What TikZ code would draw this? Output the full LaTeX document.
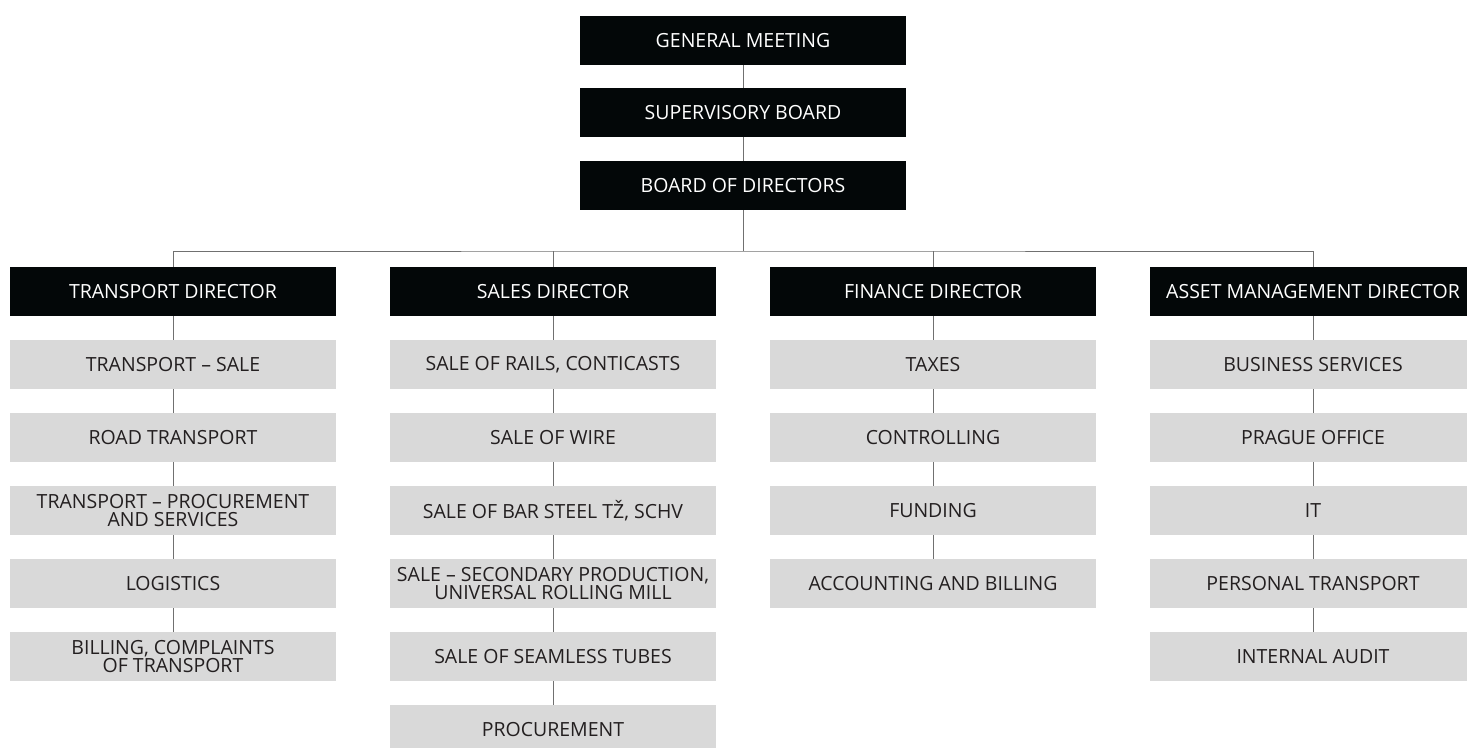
\documentclass[tikz,border=0pt]{standalone}
\usepackage{fontspec}
\setmainfont{Open Sans}
\definecolor{boxblack}{HTML}{030708}
\definecolor{boxgrey}{HTML}{D9D9D9}
\definecolor{txtdark}{HTML}{231F20}
\definecolor{linegrey}{HTML}{707070}
\tikzset{
  base/.style={minimum width=326pt, minimum height=49pt, inner sep=0pt, align=center,
    font=\fontsize{19.5}{18.5}\selectfont},
  headbox/.style={base, fill=boxblack, text=white},
  subbox/.style={base, fill=boxgrey, text=txtdark},
  conn/.style={draw=linegrey, line width=1pt}
}
\begin{document}
\begin{tikzpicture}[x=1pt,y=-1pt]
\useasboundingbox (0,0) rectangle (1467,747);
\clip (0,0) rectangle (1467,747);
% top
\node[headbox] (gm) at (743,40.5) {GENERAL MEETING};
\node[headbox] (sb) at (743,112.5) {SUPERVISORY BOARD};
\node[headbox] (bd) at (743,185.5) {BOARD OF DIRECTORS};
% directors
\node[headbox] (td) at (173,291.5) {TRANSPORT DIRECTOR};
\node[headbox] (sd) at (553,291.5) {SALES DIRECTOR};
\node[headbox] (fd) at (933,291.5) {FINANCE DIRECTOR};
\node[headbox] (ad) at (1313,291.5) {ASSET MANAGEMENT DIRECTOR};
% transport
\node[subbox] (t1) at (173,364.5) {TRANSPORT – SALE};
\node[subbox] (t2) at (173,437.5) {ROAD TRANSPORT};
\node[subbox] (t3) at (173,510.5) {TRANSPORT – PROCUREMENT\\AND SERVICES};
\node[subbox] (t4) at (173,583.5) {LOGISTICS};
\node[subbox] (t5) at (173,656.5) {BILLING, COMPLAINTS\\OF TRANSPORT};
% sales
\node[subbox] (s1) at (553,364.5) {SALE OF RAILS, CONTICASTS};
\node[subbox] (s2) at (553,437.5) {SALE OF WIRE};
\node[subbox] (s3) at (553,510.5) {SALE OF BAR STEEL TŽ, SCHV};
\node[subbox] (s4) at (553,583.5) {SALE – SECONDARY PRODUCTION,\\UNIVERSAL ROLLING MILL};
\node[subbox] (s5) at (553,656.5) {SALE OF SEAMLESS TUBES};
\node[subbox] (s6) at (553,729.5) {PROCUREMENT};
% finance
\node[subbox] (f1) at (933,364.5) {TAXES};
\node[subbox] (f2) at (933,437.5) {CONTROLLING};
\node[subbox] (f3) at (933,510.5) {FUNDING};
\node[subbox] (f4) at (933,583.5) {ACCOUNTING AND BILLING};
% asset
\node[subbox] (a1) at (1313,364.5) {BUSINESS SERVICES};
\node[subbox] (a2) at (1313,437.5) {PRAGUE OFFICE};
\node[subbox] (a3) at (1313,510.5) {IT};
\node[subbox] (a4) at (1313,583.5) {PERSONAL TRANSPORT};
\node[subbox] (a5) at (1313,656.5) {INTERNAL AUDIT};
% connectors
\coordinate (bus) at (743,251);
\draw[conn] (gm) -- (sb);
\draw[conn] (sb) -- (bd);
\draw[conn] (bd.south) -- (bus);
\draw[conn] (td.north) |- (bus) -| (ad.north);
\draw[conn] (sd.north) -- (sd.north |- bus);
\draw[conn] (fd.north) -- (fd.north |- bus);
\draw[conn] (td) -- (t1); \draw[conn] (t1) -- (t2); \draw[conn] (t2) -- (t3);
\draw[conn] (t3) -- (t4); \draw[conn] (t4) -- (t5);
\draw[conn] (sd) -- (s1); \draw[conn] (s1) -- (s2); \draw[conn] (s2) -- (s3);
\draw[conn] (s3) -- (s4); \draw[conn] (s4) -- (s5); \draw[conn] (s5) -- (s6);
\draw[conn] (fd) -- (f1); \draw[conn] (f1) -- (f2); \draw[conn] (f2) -- (f3);
\draw[conn] (f3) -- (f4);
\draw[conn] (ad) -- (a1); \draw[conn] (a1) -- (a2); \draw[conn] (a2) -- (a3);
\draw[conn] (a3) -- (a4); \draw[conn] (a4) -- (a5);
\end{tikzpicture}
\end{document}
